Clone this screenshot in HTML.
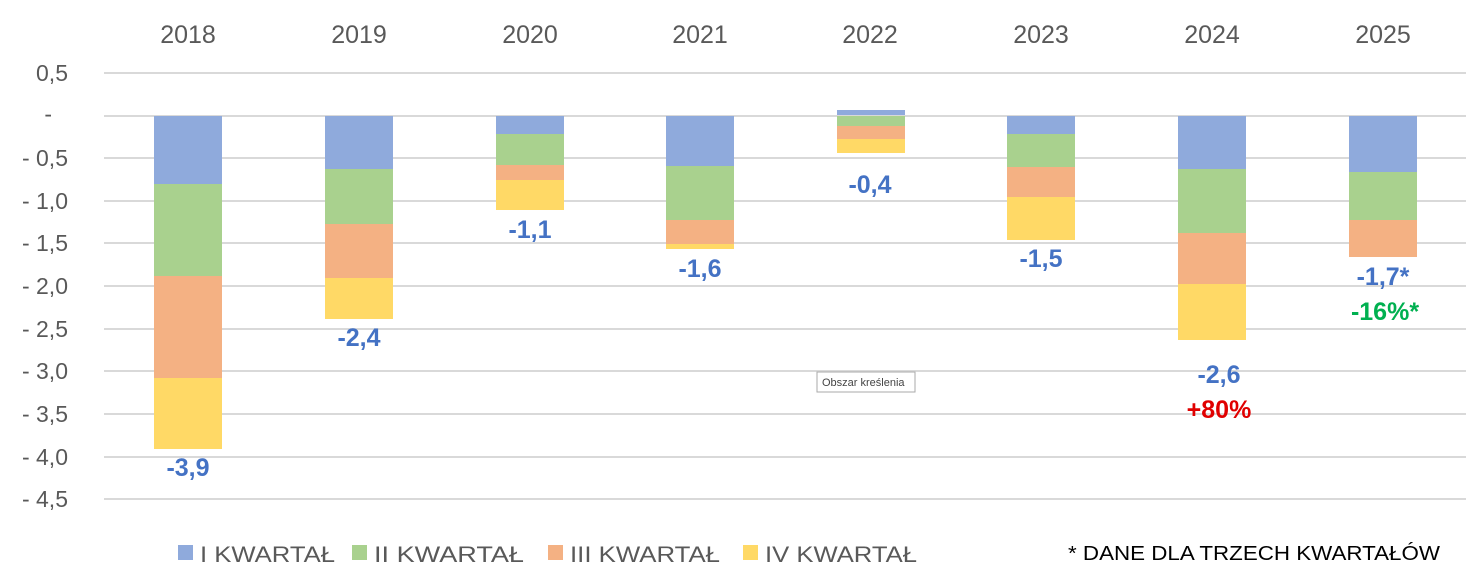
<!DOCTYPE html><html><head><meta charset="utf-8"><style>body{margin:0;background:#fff}svg{display:block}</style></head><body>
<svg width="1471" height="581" xmlns="http://www.w3.org/2000/svg" font-family="Liberation Sans, sans-serif">
<g stroke="#d9d9d9" stroke-width="2">
<line x1="104" x2="1466" y1="73" y2="73"/><line x1="104" x2="1466" y1="116" y2="116"/><line x1="104" x2="1466" y1="158" y2="158"/><line x1="104" x2="1466" y1="201" y2="201"/><line x1="104" x2="1466" y1="243" y2="243"/><line x1="104" x2="1466" y1="286" y2="286"/><line x1="104" x2="1466" y1="329" y2="329"/><line x1="104" x2="1466" y1="371" y2="371"/><line x1="104" x2="1466" y1="414" y2="414"/><line x1="104" x2="1466" y1="457" y2="457"/><line x1="104" x2="1466" y1="499" y2="499"/>
</g>
<g font-size="23" fill="#595959" text-anchor="end">
<text x="68" y="81">0,5</text><text x="52" y="122">-</text><text x="68" y="166">- 0,5</text><text x="68" y="209">- 1,0</text><text x="68" y="251">- 1,5</text><text x="68" y="294">- 2,0</text><text x="68" y="337">- 2,5</text><text x="68" y="379">- 3,0</text><text x="68" y="422">- 3,5</text><text x="68" y="465">- 4,0</text><text x="68" y="507">- 4,5</text>
</g>
<g font-size="25" fill="#595959" text-anchor="middle">
<text x="188" y="43">2018</text><text x="359" y="43">2019</text><text x="530" y="43">2020</text><text x="700" y="43">2021</text><text x="870" y="43">2022</text><text x="1041" y="43">2023</text><text x="1212" y="43">2024</text><text x="1383" y="43">2025</text>
</g>
<g>
<rect x="154" y="116" width="68" height="68" fill="#8FAADC"/><rect x="154" y="184" width="68" height="92" fill="#A9D18E"/><rect x="154" y="276" width="68" height="102" fill="#F4B183"/><rect x="154" y="378" width="68" height="71" fill="#FFD966"/>
<rect x="325" y="116" width="68" height="53" fill="#8FAADC"/><rect x="325" y="169" width="68" height="55" fill="#A9D18E"/><rect x="325" y="224" width="68" height="54" fill="#F4B183"/><rect x="325" y="278" width="68" height="41" fill="#FFD966"/>
<rect x="496" y="116" width="68" height="18" fill="#8FAADC"/><rect x="496" y="134" width="68" height="31" fill="#A9D18E"/><rect x="496" y="165" width="68" height="15" fill="#F4B183"/><rect x="496" y="180" width="68" height="30" fill="#FFD966"/>
<rect x="666" y="116" width="68" height="50" fill="#8FAADC"/><rect x="666" y="166" width="68" height="54" fill="#A9D18E"/><rect x="666" y="220" width="68" height="24" fill="#F4B183"/><rect x="666" y="244" width="68" height="5" fill="#FFD966"/>
<rect x="837" y="110" width="68" height="5" fill="#8FAADC"/><rect x="837" y="116" width="68" height="10" fill="#A9D18E"/><rect x="837" y="126" width="68" height="13" fill="#F4B183"/><rect x="837" y="139" width="68" height="14" fill="#FFD966"/>
<rect x="1007" y="116" width="68" height="18" fill="#8FAADC"/><rect x="1007" y="134" width="68" height="33" fill="#A9D18E"/><rect x="1007" y="167" width="68" height="30" fill="#F4B183"/><rect x="1007" y="197" width="68" height="43" fill="#FFD966"/>
<rect x="1178" y="116" width="68" height="53" fill="#8FAADC"/><rect x="1178" y="169" width="68" height="64" fill="#A9D18E"/><rect x="1178" y="233" width="68" height="51" fill="#F4B183"/><rect x="1178" y="284" width="68" height="56" fill="#FFD966"/>
<rect x="1349" y="116" width="68" height="56" fill="#8FAADC"/><rect x="1349" y="172" width="68" height="48" fill="#A9D18E"/><rect x="1349" y="220" width="68" height="37" fill="#F4B183"/>
</g>
<g font-size="25" font-weight="bold" fill="#4472C4" text-anchor="middle">
<text x="188" y="476">-3,9</text><text x="359" y="346">-2,4</text><text x="530" y="238">-1,1</text><text x="700" y="277">-1,6</text><text x="870" y="193">-0,4</text><text x="1041" y="267">-1,5</text><text x="1219" y="383">-2,6</text><text x="1383" y="285">-1,7*</text>
<text x="1219" y="418" fill="#E00000">+80%</text><text x="1385" y="320" fill="#00B050">-16%*</text>
</g>
<rect x="817" y="372" width="98" height="20" fill="#fff" stroke="#aaa"/>
<text x="822" y="386" font-size="11" fill="#444">Obszar kreślenia</text>
<g font-size="22" fill="#595959">
<rect x="178" y="545" width="15" height="15" fill="#8FAADC"/><text x="200" y="562" textLength="135" lengthAdjust="spacingAndGlyphs">I KWARTAŁ</text>
<rect x="352" y="545" width="15" height="15" fill="#A9D18E"/><text x="374" y="562" textLength="150" lengthAdjust="spacingAndGlyphs">II KWARTAŁ</text>
<rect x="548" y="545" width="15" height="15" fill="#F4B183"/><text x="570" y="562" textLength="150" lengthAdjust="spacingAndGlyphs">III KWARTAŁ</text>
<rect x="743" y="545" width="15" height="15" fill="#FFD966"/><text x="765" y="562" textLength="152" lengthAdjust="spacingAndGlyphs">IV KWARTAŁ</text>
</g>
<text x="1068" y="560" font-size="20" fill="#000" textLength="372" lengthAdjust="spacingAndGlyphs">* DANE DLA TRZECH KWARTAŁÓW</text>
</svg></body></html>
